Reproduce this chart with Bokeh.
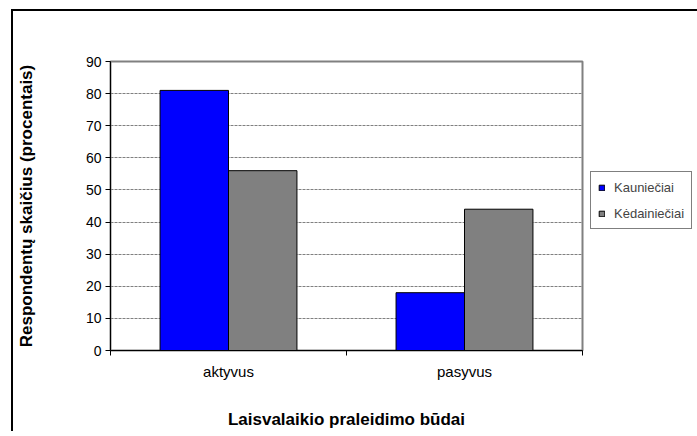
import numpy as np
from bokeh.plotting import figure
from bokeh.models import (Range1d, FixedTicker, Legend, LegendItem, ColumnDataSource)
from bokeh.embed import file_html
from bokeh.resources import INLINE

categories = ["aktyvus", "pasyvus"]
series_names = ["Kauniečiai", "Kėdainiečiai"]
kaunieciai = [81, 18]
kedainieciai = [56, 44]
y_ticks = [0, 10, 20, 30, 40, 50, 60, 70, 80, 90]
colors = ["#0000FF", "#808080"]

FONT = "Liberation Sans"

p = figure(width=689, height=428, output_backend="svg", toolbar_location=None,
           x_range=Range1d(0, len(categories)), y_range=Range1d(0, 90),
           frame_width=472, frame_height=289,
           min_border_left=110, min_border_right=107, min_border_top=61, min_border_bottom=78)

centers = np.arange(len(categories)) + 0.5
bw = 0.29
src = ColumnDataSource(dict(x1=centers - bw / 2, x2=centers + bw / 2,
                            k=kaunieciai, d=kedainieciai))
r1 = p.vbar(x="x1", top="k", width=bw, source=src, fill_color=colors[0],
            line_color="black", line_width=1)
r2 = p.vbar(x="x2", top="d", width=bw, source=src, fill_color=colors[1],
            line_color="black", line_width=1)

# axes
p.xaxis.ticker = FixedTicker(ticks=list(centers), minor_ticks=list(range(len(categories) + 1)))
p.xaxis.major_label_overrides = {float(c): n for c, n in zip(centers, categories)}
p.xaxis.major_tick_out = 0
p.xaxis.major_tick_in = 0
p.xaxis.minor_tick_out = 5
p.xaxis.minor_tick_in = 0
p.xaxis.major_label_standoff = 7
p.yaxis.ticker = FixedTicker(ticks=y_ticks)
p.yaxis.major_tick_out = 5
p.yaxis.major_tick_in = 0
p.yaxis.minor_tick_line_color = None
p.yaxis.major_label_standoff = 4
for ax in (p.xaxis, p.yaxis):
    ax.axis_line_color = "black"
    ax.axis_line_width = 1
    ax.major_tick_line_color = "black"
    ax.major_label_text_font = FONT
    ax.major_label_text_color = "black"
    ax.axis_label_text_font = FONT
    ax.axis_label_text_font_size = "17px"
    ax.axis_label_text_font_style = "bold"
    ax.axis_label_text_color = "black"
p.xaxis.major_label_text_font_size = "15px"
p.yaxis.major_label_text_font_size = "14px"
p.xaxis.minor_tick_line_color = "black"

p.xaxis.axis_label = "Laisvalaikio praleidimo būdai"
p.xaxis.axis_label_standoff = 27
p.yaxis.axis_label = "Respondentų skaičius (procentais)"
p.yaxis.axis_label_standoff = 47

p.xgrid.grid_line_color = None
p.ygrid.ticker = FixedTicker(ticks=y_ticks)
p.ygrid.grid_line_color = "#808080"
p.ygrid.grid_line_dash = "3 1"
p.ygrid.grid_line_width = 1

p.outline_line_color = "#808080"
p.outline_line_width = 2
p.background_fill_color = "white"
p.border_fill_color = None

# outer chart border (drawn as the page element's background)
p.styles = {"background": "linear-gradient(#000,#000) 11px 9px / 2px 100% no-repeat, "
                          "linear-gradient(#000,#000) 11px 9px / 100% 2px no-repeat, #fff"}

# legend
legend = Legend(items=[LegendItem(label=series_names[0], renderers=[r1]),
                       LegendItem(label=series_names[1], renderers=[r2])],
                location=(8, 121), glyph_width=7, glyph_height=7,
                label_standoff=9, padding=7, spacing=10, label_height=16,
                label_text_font=FONT, label_text_font_size="13px",
                border_line_color="black", border_line_width=1,
                background_fill_color="white", background_fill_alpha=1,
                margin=0, label_width=66)
p.add_layout(legend, "right")

open("out.html", "w").write(file_html(p, INLINE))
